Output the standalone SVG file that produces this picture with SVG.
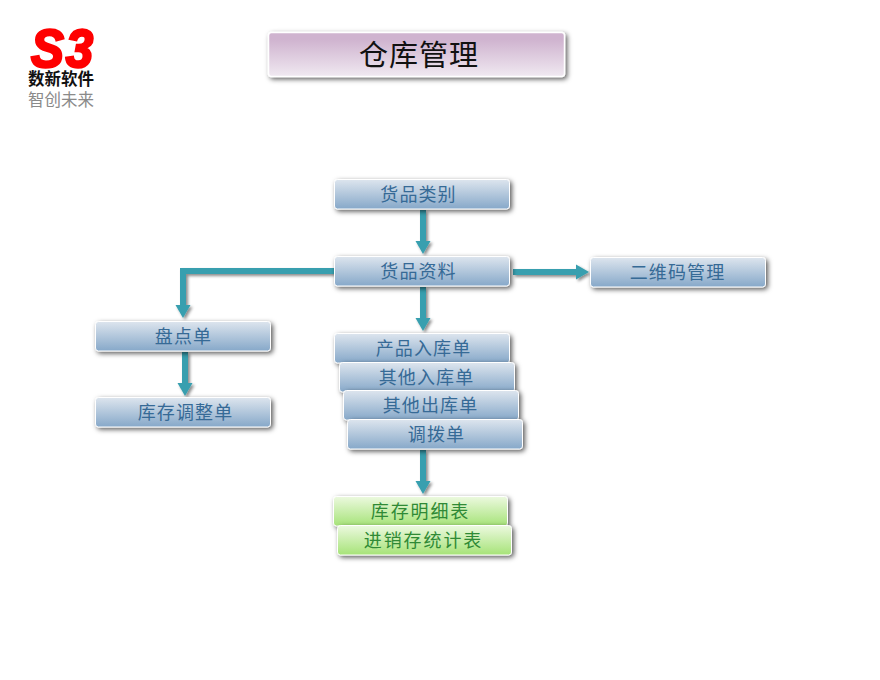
<svg xmlns="http://www.w3.org/2000/svg" width="880" height="680" viewBox="0 0 880 680">
<style>
text{font-family:"Noto Sans CJK SC","Liberation Sans",sans-serif;text-anchor:middle}
.b{fill:url(#blue);stroke:#fff;stroke-width:1;filter:url(#sh)}
.g{fill:url(#green);stroke:#fff;stroke-width:1;filter:url(#sh)}
.bt{font-size:18px;fill:#366a96;letter-spacing:1.1px}
.gt{font-size:18px;fill:#2f8a35;letter-spacing:1.9px}
.c{fill:none;stroke:#379faf;stroke-width:6}
.h{fill:#379faf}
.cg{filter:url(#sc)}
</style>
<defs>
<linearGradient id="blue" x1="0" y1="0" x2="0" y2="1"><stop offset="0" stop-color="#dde5ee"/><stop offset="1" stop-color="#86a8c9"/></linearGradient>
<linearGradient id="green" x1="0" y1="0" x2="0" y2="1"><stop offset="0" stop-color="#ecf9df"/><stop offset="1" stop-color="#a6e378"/></linearGradient>
<linearGradient id="pur" x1="0" y1="0" x2="0" y2="1"><stop offset="0.15" stop-color="#cfb3cf"/><stop offset="1" stop-color="#f0e9f1"/></linearGradient>
<filter id="sh" x="-10%" y="-30%" width="125%" height="170%"><feDropShadow dx="2" dy="2" stdDeviation="2.5" flood-color="#000" flood-opacity="0.65"/></filter>
<filter id="sc" x="-20%" y="-20%" width="140%" height="140%"><feDropShadow dx="2" dy="2" stdDeviation="1.5" flood-color="#000" flood-opacity="0.45"/></filter>
</defs>
<g id="logo">
<text x="63" y="67" style="font-family:'Liberation Sans',sans-serif;font-weight:bold;font-style:italic;letter-spacing:2px" font-size="54" fill="#fe0000" stroke="#fe0000" stroke-width="2.500" textLength="64" lengthAdjust="spacingAndGlyphs">S3</text>
<text x="61" y="85" font-size="16.500" font-weight="bold" fill="#111">数新软件</text>
<text x="61" y="106" font-size="16.500" fill="#8a8a8a">智创未来</text>
</g>
<g id="title">
<rect x="268.500" y="32.500" width="296" height="44" rx="3" fill="url(#pur)" stroke="#fff" stroke-width="1.500" filter="url(#sh)"/>
<text x="419" y="66" font-size="29" fill="#111" style="font-family:'Noto Sans CJK SC',serif;letter-spacing:1px">仓库管理</text>
</g>
<g id="connectors" class="cg">
<path class="c" d="M423 210V242"/><path class="h" d="M415.500 241H430.500L423 254Z"/>
<path class="c" d="M423 287V319"/><path class="h" d="M415.500 318H430.500L423 331Z"/>
<path class="c" d="M423 450V482"/><path class="h" d="M415.500 481H430.500L423 494Z"/>
<path class="c" d="M185 352V384"/><path class="h" d="M177.500 383H192.500L185 396Z"/>
<path class="c" d="M334 271H183V306"/><path class="h" d="M175.500 305H190.500L183 318Z"/>
<path class="c" d="M513 272H577"/><path class="h" d="M576 264.500V279.500L589 272Z"/>
</g>
<g id="n1"><rect class="b" x="334.500" y="179.500" width="175" height="29.500" rx="3"/><text class="bt" x="418.500" y="201">货品类别</text></g>
<g id="n2"><rect class="b" x="334.500" y="256.500" width="175" height="29.500" rx="3"/><text class="bt" x="418.500" y="278">货品资料</text></g>
<g id="n3"><rect class="b" x="590.500" y="257.500" width="175" height="29.500" rx="3"/><text class="bt" x="677.500" y="279">二维码管理</text></g>
<g id="n4"><rect class="b" x="95.500" y="321.500" width="175" height="29.500" rx="3"/><text class="bt" x="183.500" y="343">盘点单</text></g>
<g id="n5"><rect class="b" x="95.500" y="397.500" width="175" height="29.500" rx="3"/><text class="bt" x="185.500" y="419">库存调整单</text></g>
<g id="n6"><rect class="b" x="334.500" y="333.500" width="175" height="29.500" rx="3"/><text class="bt" x="423.500" y="355">产品入库单</text></g>
<g id="n7"><rect class="b" x="339.500" y="362.500" width="175" height="29.500" rx="3"/><text class="bt" x="426.500" y="384">其他入库单</text></g>
<g id="n8"><rect class="b" x="343.500" y="390.500" width="175" height="29.500" rx="3"/><text class="bt" x="430.500" y="412">其他出库单</text></g>
<g id="n9"><rect class="b" x="347.500" y="419.500" width="175" height="29.500" rx="3"/><text class="bt" x="436.500" y="441">调拨单</text></g>
<g id="n10"><rect class="g" x="333.500" y="496.500" width="174" height="29.500" rx="3"/><text class="gt" x="420.500" y="518">库存明细表</text></g>
<g id="n11"><rect class="g" x="337.500" y="525.500" width="174" height="29.500" rx="3"/><text class="gt" x="423.500" y="547">进销存统计表</text></g>
</svg>
